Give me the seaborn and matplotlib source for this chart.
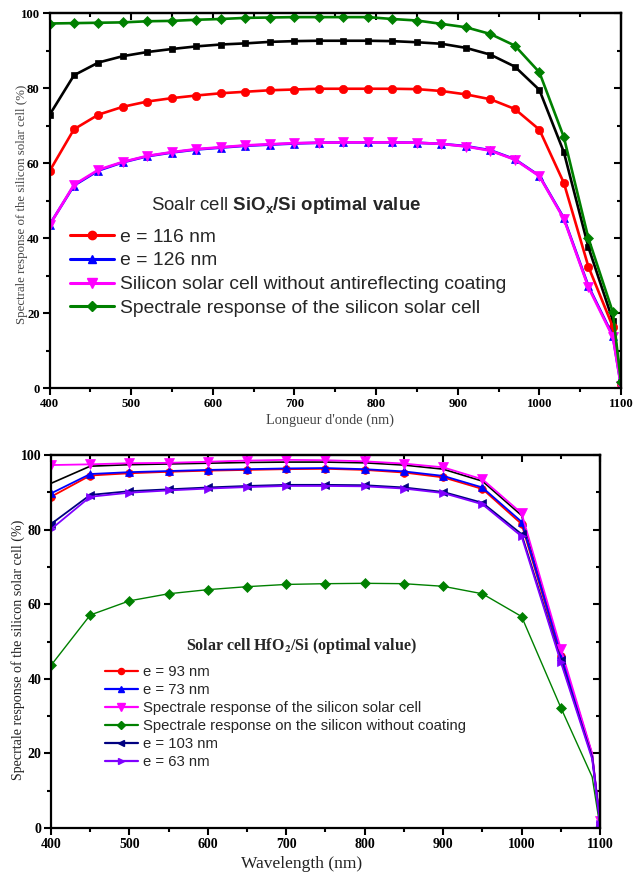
import matplotlib
matplotlib.use("Agg")
import matplotlib.pyplot as plt
import seaborn as sns
from matplotlib.lines import Line2D
from matplotlib.ticker import MultipleLocator

# ---------------- SiOx/Si panel ----------------
wl_top = [400, 430, 460, 490, 520, 550, 580, 610, 640, 670, 700, 730, 760,
          790, 820, 850, 880, 910, 940, 970, 1000, 1030, 1060, 1090, 1100]
sr_ref_black = [72.8, 83.4, 86.8, 88.5, 89.6, 90.4, 91.1, 91.6, 91.9, 92.3, 92.5, 92.6, 92.6,
                92.6, 92.5, 92.2, 91.8, 90.7, 88.9, 85.7, 79.5, 62.9, 37.6, 18.0, 1.5]
sr_e116 = [57.8, 69.0, 72.9, 75.0, 76.4, 77.3, 78.0, 78.6, 79.0, 79.4, 79.6, 79.8, 79.8,
           79.8, 79.8, 79.7, 79.2, 78.3, 77.0, 74.4, 68.9, 54.7, 32.4, 16.3, 1.0]
sr_e126 = [43.5, 54.0, 58.0, 60.2, 61.8, 62.8, 63.6, 64.1, 64.6, 64.9, 65.2, 65.4, 65.5,
           65.5, 65.5, 65.4, 65.1, 64.5, 63.4, 61.0, 56.6, 45.3, 27.2, 13.9, 0.6]
sr_no_arc = [43.4, 54.2, 58.2, 60.3, 61.9, 62.9, 63.7, 64.2, 64.7, 65.0, 65.3, 65.4, 65.5,
             65.5, 65.5, 65.4, 65.1, 64.4, 63.3, 60.9, 56.5, 45.1, 26.9, 13.6, 0.5]
sr_si_cell = [97.2, 97.3, 97.4, 97.5, 97.8, 97.9, 98.2, 98.4, 98.7, 98.8, 98.9, 98.9, 98.9,
              98.9, 98.4, 98.0, 97.1, 96.2, 94.4, 91.3, 84.2, 66.9, 40.0, 20.2, 1.5]

top_labels = ["e = 116 nm", "e = 126 nm",
              "Silicon solar cell without antireflecting coating",
              "Spectrale response of the silicon solar cell"]

# ---------------- HfO2/Si panel ----------------
wl_bot = [400, 450, 500, 550, 600, 650, 700, 750, 800, 850, 900, 950, 1000, 1050, 1090, 1100]
hf_black = [92.4, 97.0, 97.4, 97.6, 97.8, 98.0, 98.1, 98.1, 97.9, 97.3, 96.2, 93.0, 83.8, 47.2, 19.8, 1.5]
hf_e93 = [88.8, 94.5, 95.1, 95.5, 95.8, 96.0, 96.2, 96.3, 96.0, 95.3, 94.0, 90.9, 81.5, 46.0, 19.3, 1.2]
hf_e73 = [89.7, 94.9, 95.4, 95.7, 96.0, 96.2, 96.4, 96.5, 96.2, 95.6, 94.4, 91.3, 82.1, 46.7, 19.5, 1.5]
hf_si_cell = [97.3, 97.5, 97.8, 97.9, 98.2, 98.5, 98.7, 98.6, 98.3, 97.7, 96.7, 93.5, 84.4, 48.1, 20.0, 1.8]
hf_no_coat = [43.6, 57.1, 60.9, 62.8, 63.9, 64.7, 65.3, 65.5, 65.6, 65.5, 64.8, 62.8, 56.7, 32.3, 13.7, 0.3]
hf_e103 = [81.5, 89.3, 90.3, 90.8, 91.3, 91.7, 92.0, 92.0, 91.9, 91.3, 90.1, 87.2, 78.8, 45.0, 19.0, 1.5]
hf_e63 = [80.1, 88.8, 89.9, 90.5, 91.0, 91.4, 91.7, 91.7, 91.6, 91.0, 89.8, 86.8, 78.2, 44.5, 18.5, 1.2]

bot_labels = ["e = 93 nm", "e = 73 nm",
              "Spectrale response of the silicon solar cell",
              "Spectrale response on the silicon without coating",
              "e = 103 nm", "e = 63 nm"]

x_ticks = [400, 500, 600, 700, 800, 900, 1000, 1100]
y_ticks = [0, 20, 40, 60, 80, 100]

sns.set_theme(style="ticks")
plt.rcParams.update({
    "font.family": ["Liberation Serif", "DejaVu Serif"],
    "mathtext.fontset": "custom",
    "mathtext.rm": "Liberation Sans",
    "mathtext.bf": "Liberation Sans:bold",
    "mathtext.it": "Liberation Sans:italic",
    "axes.edgecolor": "black",
    "xtick.color": "black",
    "ytick.color": "black",
})

W, H = 634, 877
fig = plt.figure(figsize=(W / 100, H / 100), dpi=100)
fig.patch.set_facecolor("white")


def px_axes(left, top, right, bottom):
    return fig.add_axes([left / W, 1 - bottom / H, (right - left) / W, (bottom - top) / H])


ax1 = px_axes(49.5, 13, 621, 388)
ax2 = px_axes(51, 455, 600, 828)


def frame(ax, tick_size):
    ax.set_xlim(400, 1100)
    ax.set_ylim(0, 100)
    ax.set_xticks(x_ticks)
    ax.set_xticklabels([str(v) for v in x_ticks], fontweight="bold", fontsize=tick_size)
    ax.set_yticks(y_ticks)
    ax.set_yticklabels([str(v) for v in y_ticks], fontweight="bold", fontsize=tick_size)
    ax.xaxis.set_minor_locator(MultipleLocator(50))
    ax.yaxis.set_minor_locator(MultipleLocator(10))
    ax.tick_params(which="both", direction="out", width=1.5, top=False, right=False, pad=2)
    ax.tick_params(which="major", length=5)
    ax.tick_params(which="minor", length=3)
    for s in ax.spines.values():
        s.set_visible(True)
        s.set_linewidth(1.6)
        s.set_color("black")
    # inward ticks mirrored on the top and right edges
    sx = ax.secondary_xaxis("top")
    sx.xaxis.set_major_locator(MultipleLocator(100))
    sx.xaxis.set_minor_locator(MultipleLocator(50))
    sx.tick_params(which="both", direction="in", width=1.5, labeltop=False)
    sx.tick_params(which="major", length=5)
    sx.tick_params(which="minor", length=3)
    sx.spines["top"].set_linewidth(1.6)
    sy = ax.secondary_yaxis("right")
    sy.yaxis.set_major_locator(MultipleLocator(20))
    sy.yaxis.set_minor_locator(MultipleLocator(10))
    sy.tick_params(which="both", direction="in", width=1.5, labelright=False)
    sy.tick_params(which="major", length=5)
    sy.tick_params(which="minor", length=3)
    sy.spines["right"].set_linewidth(1.6)


# ---- upper chart ----
top_series = [
    (sr_ref_black, "black", "s", 5.0, None),
    (sr_e116, "#FF0000", "o", 6.0, top_labels[0]),
    (sr_e126, "#0000FF", "^", 6.0, top_labels[1]),
    (sr_no_arc, "#FF00FF", "v", 6.5, top_labels[2]),
    (sr_si_cell, "#008000", "D", 5.0, top_labels[3]),
]
for vals, col, mk, ms, lab in top_series:
    sns.lineplot(x=wl_top, y=vals, ax=ax1, color=col, marker=mk, markersize=ms,
                 markeredgecolor=col, markeredgewidth=0.5, linewidth=1.9, legend=False)

frame(ax1, 9.2)
ax1.set_xlabel("Longueur d'onde (nm)", fontsize=10.4, color="#444444")
ax1.set_ylabel("Spectrale response of the silicon solar cell (%)", fontsize=9.3, color="#444444")
ax1.xaxis.set_label_coords(0.49, -0.086)
ax1.yaxis.set_label_coords(-0.048, 0.49)
ax1.xaxis.label.set_va("center")
ax1.yaxis.label.set_va("center")

handles1 = [Line2D([], [], color=c, marker=m, markersize=ms, markeredgecolor=c, linewidth=2.2)
            for _, c, m, ms, lab in top_series if lab is not None]
fig.legend(handles1, top_labels, loc="upper left", bbox_to_anchor=(70 / W, 1 - 228 / H),
           frameon=False, borderpad=0, borderaxespad=0, handlelength=2.3,
           handletextpad=0.27, labelspacing=0.33,
           prop={"family": "Liberation Sans", "size": 13.9})
fig.text(286 / W, 1 - 205 / H, r"Soalr cell $\mathbf{SiO_x/Si\ optimal\ value}$",
         ha="center", va="center", fontsize=13.4, family="Liberation Sans",
         math_fontfamily="custom")

# ---- lower chart ----
mk_idx = [i for i, w in enumerate(wl_bot) if w % 50 == 0]
bot_series = [
    (hf_black, "black", None, 0, 1.2, None),
    (hf_e93, "#FF0000", "o", 5.5, 1.3, bot_labels[0]),
    (hf_e73, "#0000FF", "^", 6.0, 1.3, bot_labels[1]),
    (hf_si_cell, "#FF00FF", "v", 6.5, 1.3, bot_labels[2]),
    (hf_no_coat, "#008000", "D", 5.0, 1.0, bot_labels[3]),
    (hf_e103, "#000080", "<", 6.0, 1.3, bot_labels[4]),
    (hf_e63, "#8000FF", ">", 6.0, 1.3, bot_labels[5]),
]
for vals, col, mk, ms, lw, lab in bot_series:
    if mk is None:
        sns.lineplot(x=wl_bot, y=vals, ax=ax2, color=col, linewidth=lw, legend=False)
    else:
        sns.lineplot(x=wl_bot, y=vals, ax=ax2, color=col, marker=mk, markersize=ms,
                     markeredgecolor=col, markeredgewidth=0.5, linewidth=lw,
                     markevery=mk_idx, legend=False)

frame(ax2, 10)
ax2.set_xlabel("Wavelength (nm)", fontsize=12.5, color="#222222")
ax2.set_ylabel("Specrtale response of the silicon solar cell (%)", fontsize=10.1, color="#222222")
ax2.xaxis.set_label_coords(0.457, -0.0965)
ax2.yaxis.set_label_coords(-0.060, 0.477)
ax2.xaxis.label.set_va("center")
ax2.yaxis.label.set_va("center")

handles2 = [Line2D([], [], color=c, marker=m, markersize=ms * 0.8, markeredgecolor=c, linewidth=1.6)
            for _, c, m, ms, lw, lab in bot_series if lab is not None]
fig.legend(handles2, bot_labels, loc="upper left", bbox_to_anchor=(105 / W, 1 - 665 / H),
           frameon=False, borderpad=0, borderaxespad=0, handlelength=2.2,
           handletextpad=0.34, labelspacing=0.27,
           prop={"family": "Liberation Sans", "size": 10.7})
fig.text(301 / W, 1 - 646 / H, r"Solar cell HfO$_\mathbf{2}$/Si (optimal value)",
         ha="center", va="center", fontsize=11.5, fontweight="bold",
         family="Liberation Serif", math_fontfamily="stix")

fig.savefig("out.png", dpi=100, facecolor="white")
